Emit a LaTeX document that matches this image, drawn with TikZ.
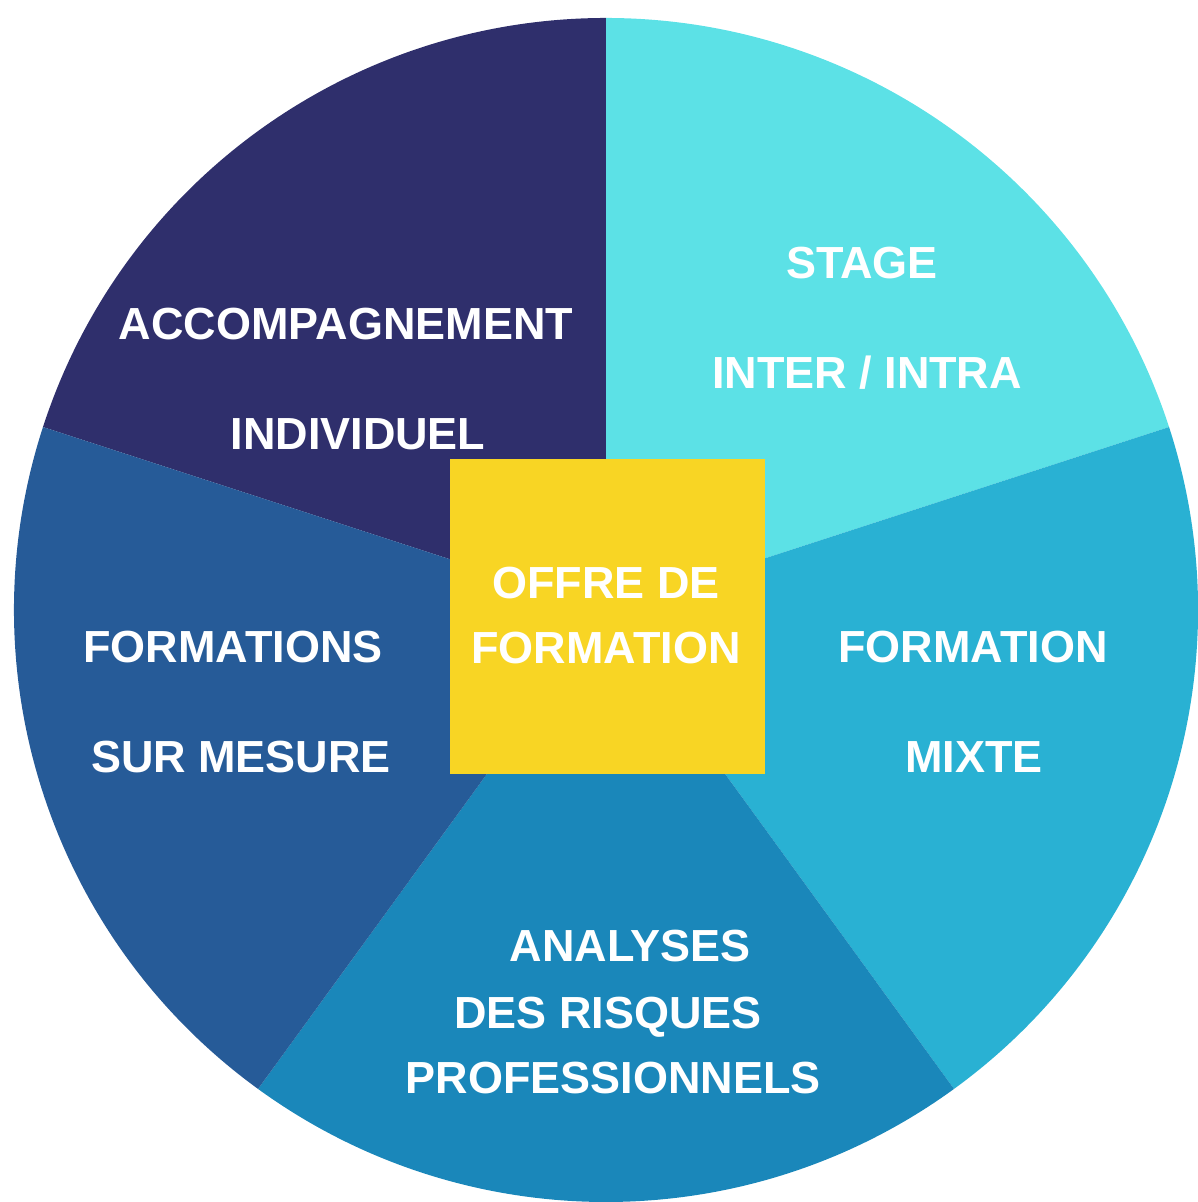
\documentclass[tikz,border=0pt]{standalone}
\usepackage{fontspec}
\setmainfont{Liberation Sans}
\usepackage{tikz}

\definecolor{navy}{RGB}{47,47,108}
\definecolor{lightcyan}{RGB}{92,225,230}
\definecolor{midcyan}{RGB}{41,177,211}
\definecolor{deepblue}{RGB}{26,135,186}
\definecolor{steelblue}{RGB}{38,91,152}
\definecolor{offreyellow}{RGB}{248,213,36}

\tikzset{
  label/.style={text=white,font=\fontsize{12.8}{15}\selectfont\bfseries,
    inner sep=0pt,text height=9.2pt,text depth=0pt}
}

\begin{document}
\begin{tikzpicture}
  \useasboundingbox (0,0) rectangle (11.97,12.02);

  \begin{scope}[shift={(6.06,5.92)}]
   \fill[navy] (0,0) -- (90:5.92) arc (90:162:5.92) -- cycle;
   \fill[lightcyan] (0,0) -- (18:5.92) arc (18:90:5.92) -- cycle;
   \fill[midcyan] (0,0) -- (-54:5.92) arc (-54:18:5.92) -- cycle;
   \fill[deepblue] (0,0) -- (-126:5.92) arc (-126:-54:5.92) -- cycle;
   \fill[steelblue] (0,0) -- (162:5.92) arc (162:234:5.92) -- cycle;
  \end{scope}

  \node[fill=offreyellow,minimum size=3.15cm,inner sep=0pt] (offre) at (6.075,5.85) {};

  \node[label] (accomp) at (3.46,8.79) {ACCOMPAGNEMENT};
  \node[label] (indiv) at (3.58,7.69) {INDIVIDUEL};

  \node[label] (stage) at (8.62,9.40) {STAGE};
  \node[label] (inter) at (8.67,8.30) {INTER / INTRA};

  \node[label] (formations) at (2.33,5.56) {FORMATIONS};
  \node[label] (mesure) at (2.41,4.46) {SUR MESURE};

  \node[label] (formation) at (9.73,5.56) {FORMATION};
  \node[label] (mixte) at (9.74,4.46) {MIXTE};

  \node[label] (analyses) at (6.30,2.57) {ANALYSES};
  \node[label] (risques) at (6.08,1.90) {DES RISQUES};
  \node[label] (pros) at (6.13,1.25) {PROFESSIONNELS};

  \node[label] (offre1) at (6.06,6.20) {OFFRE DE};
  \node[label] (offre2) at (6.06,5.55) {FORMATION};
 \end{tikzpicture}
\end{document}
